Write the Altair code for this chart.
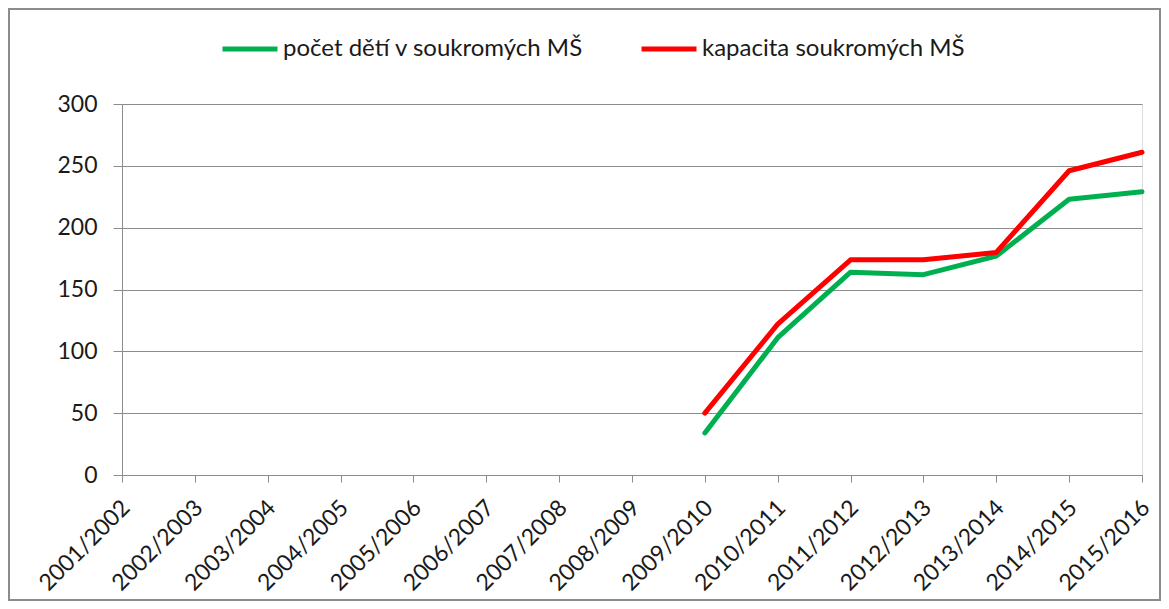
import altair as alt
import pandas as pd

years = ["2001/2002", "2002/2003", "2003/2004", "2004/2005", "2005/2006",
         "2006/2007", "2007/2008", "2008/2009", "2009/2010", "2010/2011",
         "2011/2012", "2012/2013", "2013/2014", "2014/2015", "2015/2016"]
deti = [None, None, None, None, None, None, None, None, 34, 111, 164, 162, 177, 223, 229]
kapacita = [None, None, None, None, None, None, None, None, 50, 122, 174, 174, 180, 246, 261]

s1 = "počet dětí v soukromých MŠ"
s2 = "kapacita soukromých MŠ"

rows = []
for y, a, b in zip(years, deti, kapacita):
    rows.append({"rok": y, "serie": s1, "hodnota": a})
    rows.append({"rok": y, "serie": s2, "hodnota": b})
df = pd.DataFrame(rows)

FONT = "Lato"
GRID = "#8c8c8c"
TXT = "#1a1a1a"

lines = alt.Chart(df).mark_line(strokeWidth=5, strokeCap="round", strokeJoin="round").encode(
    x=alt.X("rok:O", sort=years,
            scale=alt.Scale(type="point", padding=0),
            axis=alt.Axis(title=None, labelAngle=-45, labelAlign="right", labelBaseline="top",
                          labelFontSize=23, labelFont=FONT, labelColor=TXT,
                          labelPadding=14, labelOffset=-4, tickSize=7, tickColor=GRID,
                          domainColor=GRID, grid=False, labelOverlap=False)),
    y=alt.Y("hodnota:Q", scale=alt.Scale(domain=[0, 300], nice=False),
            axis=alt.Axis(title=None, values=[0, 50, 100, 150, 200, 250, 300],
                          labelFontSize=23, labelFont=FONT, labelColor=TXT,
                          tickSize=9, tickColor=GRID, domainColor=GRID, labelPadding=16,
                          gridColor=GRID, gridWidth=1)),
    color=alt.Color("serie:N",
                    scale=alt.Scale(domain=[s1, s2], range=["#00b050", "#ff0000"]),
                    legend=alt.Legend(title=None, orient="none", direction="horizontal",
                                      legendX=98, legendY=-85,
                                      symbolType="stroke", symbolSize=3025,
                                      symbolStrokeWidth=5, labelFontSize=24, labelFont=FONT,
                                      labelColor=TXT, labelOffset=3, columnPadding=47,
                                      labelLimit=500)),
)

border = alt.Chart(pd.DataFrame({"a": [0]})).mark_rect(
    fill=None, stroke="#8c8c8c", strokeWidth=2
).encode(
    x=alt.value(-113), x2=alt.value(1038), y=alt.value(-95), y2=alt.value(496)
)

chart = alt.layer(lines, border).properties(
    width=1020, height=371,
    padding={"left": 114, "top": 96, "right": 19, "bottom": 126},
    autosize=alt.AutoSizeParams(type="none"),
).configure_view(stroke=None).configure(background="white")

chart.save("out.html", embed_options={"renderer": "svg", "actions": False})
